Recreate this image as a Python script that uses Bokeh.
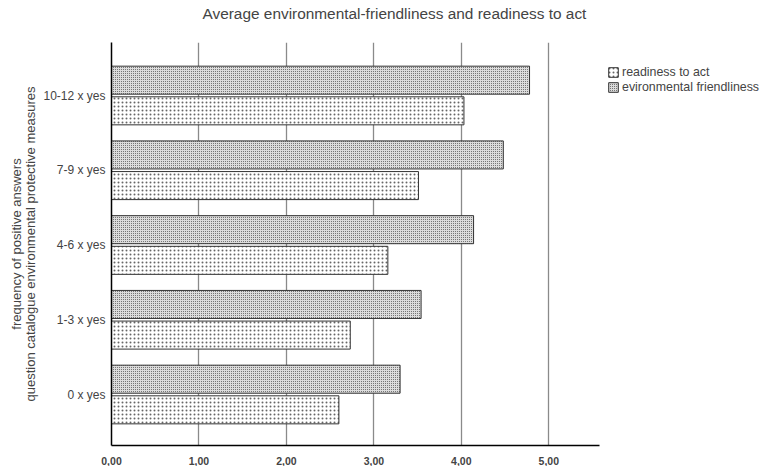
from bokeh.plotting import figure
from bokeh.models import ColumnDataSource, Range1d, FixedTicker, Legend, LegendItem, Title, LinearAxis
from bokeh.embed import file_html
from bokeh.resources import INLINE

categories = ["0 x yes", "1-3 x yes", "4-6 x yes", "7-9 x yes", "10-12 x yes"]
readiness = [2.60, 2.73, 3.16, 3.51, 4.03]
friendliness = [3.30, 3.54, 4.14, 4.48, 4.78]
x_ticks = [0, 1, 2, 3, 4, 5]
x_tick_labels = ["0,00", "1,00", "2,00", "3,00", "4,00", "5,00"]
y_title_lines = ["frequency of positive answers",
                 "question catalogue environmental protective measures"]

FONT = "Liberation Sans"
idx = list(range(len(categories)))

src_r = ColumnDataSource(dict(y=[i - 0.205 for i in idx], v=readiness))
src_f = ColumnDataSource(dict(y=[i + 0.205 for i in idx], v=friendliness))

p = figure(frame_width=488, frame_height=403, output_backend="svg", toolbar_location=None,
           x_range=Range1d(0, 5.58), y_range=Range1d(-0.682, 4.709),
           min_border_left=111, min_border_top=42, min_border_bottom=20, min_border_right=168)
p.outline_line_color = None
p.background_fill_color = "white"

r1 = p.hbar(y="y", right="v", left=0, height=0.375, source=src_r,
            fill_color="white", line_color="#333333", line_width=1,
            hatch_pattern="dot", hatch_scale=4, hatch_weight=1, hatch_color="#666666")
r2 = p.hbar(y="y", right="v", left=0, height=0.375, source=src_f,
            fill_color="#dcdcdc", line_color="#333333", line_width=1,
            hatch_pattern="dot", hatch_scale=2, hatch_weight=1, hatch_color="#555555")

# axes
p.xaxis.ticker = FixedTicker(ticks=x_ticks)
p.xaxis.major_label_overrides = {float(t): l for t, l in zip(x_ticks, x_tick_labels)}
p.xaxis.major_tick_line_color = None
p.xaxis.minor_tick_line_color = None
p.xaxis.axis_line_color = "black"
p.xaxis.axis_line_width = 1.5
p.xaxis.major_label_text_font = FONT
p.xaxis.major_label_text_font_size = "10.5px"
p.xaxis.major_label_text_font_style = "bold"
p.xaxis.major_label_standoff = 5

p.yaxis.ticker = FixedTicker(ticks=idx)
p.yaxis.major_label_overrides = {i: c for i, c in zip(idx, categories)}
p.yaxis.major_tick_line_color = None
p.yaxis.minor_tick_line_color = None
p.yaxis.axis_line_color = "black"
p.yaxis.axis_line_width = 1.5
p.yaxis.major_label_text_font = FONT
p.yaxis.major_label_text_font_size = "12px"
p.yaxis.major_label_standoff = 0
p.yaxis.axis_label = y_title_lines[1]
p.yaxis.axis_label_text_font = FONT
p.yaxis.axis_label_text_font_size = "13px"
p.yaxis.axis_label_text_font_style = "normal"
p.yaxis.axis_label_standoff = 2

outer = LinearAxis(axis_label=y_title_lines[0], ticker=FixedTicker(ticks=[]),
                   axis_line_color=None, major_tick_line_color=None,
                   minor_tick_line_color=None, major_label_text_font_size="0px",
                   axis_label_text_font=FONT, axis_label_text_font_size="13px",
                   axis_label_text_font_style="normal", axis_label_standoff=-3)
p.add_layout(outer, "left")

p.xgrid.ticker = FixedTicker(ticks=[1, 2, 3, 4, 5])
p.xgrid.grid_line_color = "#8a8a8a"
p.xgrid.grid_line_width = 1.3
p.ygrid.grid_line_color = None

spacer = Title(text=" ", text_font=FONT, text_font_size="10px", standoff=8)
p.add_layout(spacer, "above")
t = Title(text="Average environmental-friendliness and readiness to act", align="left",
          offset=91, text_font=FONT, text_font_size="15.4px", text_font_style="normal",
          standoff=0)
p.add_layout(t, "above")

legend = Legend(items=[LegendItem(label="readiness to act", renderers=[r1]),
                       LegendItem(label="evironmental friendliness", renderers=[r2])],
                location=(8, 351), border_line_color=None, background_fill_alpha=0,
                padding=0, margin=0, spacing=1, glyph_width=12, glyph_height=12,
                label_standoff=3, label_text_font=FONT, label_text_font_size="12.4px",
                label_height=12)
p.add_layout(legend, "right")

open("out.html", "w").write(file_html(p, INLINE))
